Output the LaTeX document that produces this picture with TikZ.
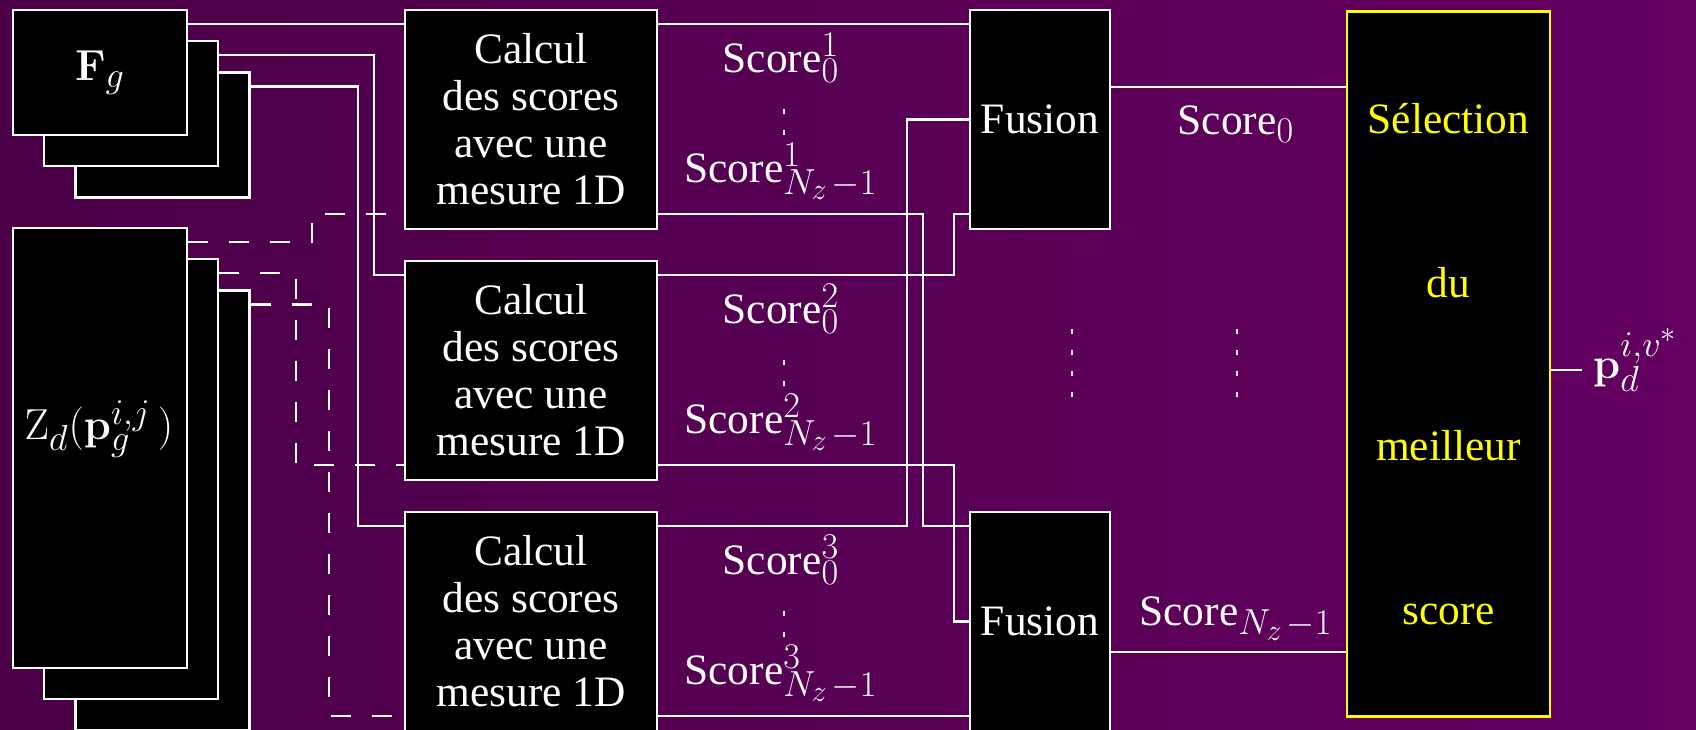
\RequirePackage{fix-cm}
\documentclass[tikz,border=0pt]{standalone}
\usepackage[no-math]{fontspec}
\setmainfont{Liberation Serif}
\newfontfamily\slidefont{Liberation Serif}
\DeclareMathSizes{21.7}{21.7}{18.1}{15.1}
\usetikzlibrary{positioning}
\definecolor{bgl}{HTML}{4B0047}
\definecolor{bgr}{HTML}{630061}
\definecolor{cyellow}{HTML}{FFFF00}
\tikzset{
  every picture/.style={line width=1.2pt, font=\slidefont\fontsize{21.7}{23.5}\selectfont},
  box/.style={draw=white, fill=black, text=white, inner sep=0pt, align=center},
  selbox/.style={draw=cyellow, fill=black, text=cyellow, inner sep=0pt, align=center},
  wire/.style={draw=white},
  feed/.style={draw=white, dash pattern=on 10pt off 10.5pt},
  dots/.style={draw=white, dash pattern=on 2.5pt off 8pt},
  lab/.style={text=white, inner sep=0pt},
}
\newcommand{\nzm}{N_z\mkern2mu-1}

\begin{document}
\begin{tikzpicture}[x=0.5pt, y=-0.5pt]
  % canvas: 1 unit = 1 pixel of the slide, y going down
  \useasboundingbox (0,0) rectangle (1696,729);
  \shade[left color=bgl, right color=bgr] (0,0) rectangle (1696,729);
  % stacks of inputs (back ones first)
  \foreach \k/\t in {3/{},2/{},1/{$\mathbf{F}_g$}}
    \node[box, minimum width=87pt, minimum height=62.5pt] (fg\k) at ({100+31.25*(\k-1)},{72.5+31.25*(\k-1)}) {\t};
  \foreach \k in {3,2,1}
    \node[box, minimum width=87pt, minimum height=220pt] (zd\k) at ({100+31.25*(\k-1)},{448+31.25*(\k-1)}) {};
  \node[lab] (zdtxt) at (99,429) {$\mathrm{Z}_d(\mathbf{p}_g^{i,j}\,)$};
  % 1D measures
  \foreach \k/\y in {1/119.5,2/370.5,3/621.5}
    \node[box, minimum width=126pt, minimum height=109.5pt] (cal\k) at (531,\y) {Calcul\\des scores\\avec une\\mesure 1D};
  % fusions and selection
  \node[box, minimum width=70pt, minimum height=109.5pt] (fu1) at (1040,119.5) {Fusion};
  \node[box, minimum width=70pt, minimum height=109.5pt] (fu2) at (1040,621.5) {Fusion};
  \node[selbox, minimum width=101.5pt, minimum height=352.5pt] (sel) at (1448.5,364) {S\'election\\[58.35pt]du\\[58.35pt]meilleur\\[58.35pt]score};
  % ports
  \foreach \n in {fg1,fg2,fg3,zd1,zd2,zd3}
    \coordinate (\n-o) at ([yshift=-7.5pt]\n.north east);
  \foreach \n in {cal1,cal2,cal3} {
    \coordinate (\n-ia) at ([yshift=-7.5pt]\n.north west);
    \coordinate (\n-ib) at ([yshift=8pt]\n.south west);
    \coordinate (\n-oa) at ([yshift=-7.5pt]\n.north east);
    \coordinate (\n-ob) at ([yshift=8pt]\n.south east);
  }
  \foreach \n in {fu1,fu2} {
    \coordinate (\n-ia) at ([yshift=-7.5pt]\n.north west);
    \coordinate (\n-ic) at (\n.west);
    \coordinate (\n-ib) at ([yshift=8pt]\n.south west);
  }
  % vertical runs
  \coordinate (bf2) at (374,0);
  \coordinate (bf3) at (358,0);
  \coordinate (bz1) at (312,0);
  \coordinate (bz2) at (296,0);
  \coordinate (bz3) at (329,0);
  \coordinate (bs1) at (923,0);
  \coordinate (bs2) at (954,0);
  \coordinate (bs3) at (907,0);
  % inputs to the measures
  \draw[wire] (fg1-o) -- (cal1-ia);
  \draw[wire] (fg2-o) -| (bf2 |- cal2-ia) -- (cal2-ia);
  \draw[wire] (fg3-o) -| (bf3 |- cal3-ia) -- (cal3-ia);
  \draw[feed] (zd1-o) -| (bz1 |- cal1-ib) -- (cal1-ib);
  \draw[feed] (zd2-o) -| (bz2 |- cal2-ib) -- (cal2-ib);
  \draw[feed] (zd3-o) -| (bz3 |- cal3-ib) -- (cal3-ib);
  % scores to the fusions
  \draw[wire] (cal1-oa) -- (fu1-ia);
  \draw[wire] (cal2-oa) -| (bs2 |- fu1-ib) -- (fu1-ib);
  \draw[wire] (cal3-oa) -| (bs3 |- fu1-ic) -- (fu1-ic);
  \draw[wire] (cal1-ob) -| (bs1 |- fu2-ia) -- (fu2-ia);
  \draw[wire] (cal2-ob) -| (bs2 |- fu2-ic) -- (fu2-ic);
  \draw[wire] (cal3-ob) -- (fu2-ib);
  \foreach \k/\y in {1/10,2/261,3/512} {
    \node[lab, anchor=base] (sa\k) at (781,\y+62) {Score$^{\k}_0$};
    \node[lab, anchor=base] (sb\k) at (781,\y+172) {Score$^{\k}_{\nzm}$};
    \draw[dots] (784,\y+99) -- (784,\y+127);
  }
  % fused scores to the selection
  \coordinate (s0) at (0,87);
  \coordinate (sn) at (0,652);
  \draw[wire] (fu1.east |- s0) -- (sel.west |- s0);
  \draw[wire] (fu2.east |- sn) -- (sel.west |- sn);
  \node[lab, anchor=base] (sc0) at (1236,134) {Score$_0$};
  \node[lab, anchor=base] (scn) at (1236,625) {Score$_{\nzm}$};
  \draw[dots] (1072,329) -- (1072,397);
  \draw[dots] (1237,329) -- (1237,397);
  % output
  \coordinate (oend) at (1582,370);
  \draw[wire] (sel.east |- oend) -- (oend);
  \node[lab, anchor=base west] (pout) at (1592,378) {$\mathbf{p}_d^{i,v^*}$};
\end{tikzpicture}
\end{document}
